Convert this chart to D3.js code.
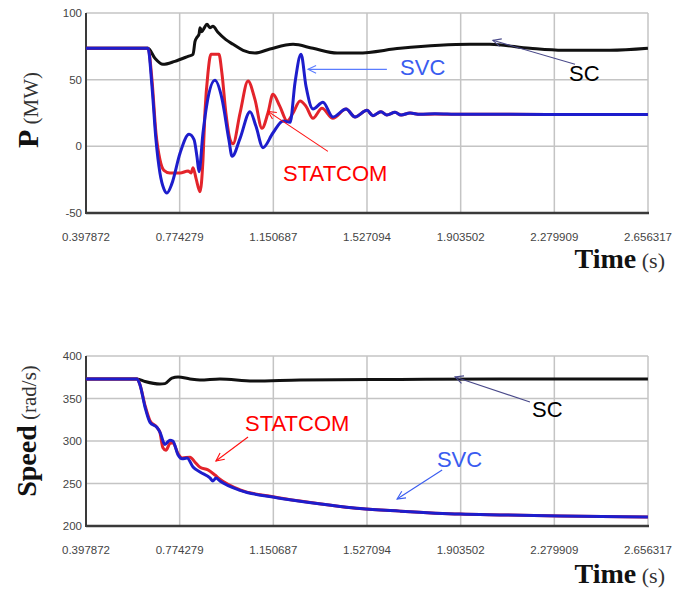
<!DOCTYPE html>
<html>
<head>
<meta charset="utf-8">
<script src="https://cdn.jsdelivr.net/npm/d3@7"></script>
<style>
  body { margin: 0; background: #fff; }
  svg { display: block; }
</style>
</head>
<body>
<div id="viz"></div>
<script>
// shared time axis
var timeTicks = [0.397872, 0.774279, 1.150687, 1.527094, 1.903502, 2.279909, 2.656317];
var powerTicks = [-50, 0, 50, 100];
var speedTicks = [200, 250, 300, 350, 400];

// active power P (MW)
var scTimeP = [0.398, 0.647, 0.675, 0.707, 0.755, 0.808, 0.828, 0.836, 0.844, 0.852, 0.856, 0.864, 0.872,
  0.884, 0.896, 0.908, 0.928, 0.960, 0.989, 1.029, 1.077, 1.137, 1.230, 1.310, 1.407, 1.491, 1.660,
  1.941, 2.021, 2.182, 2.315, 2.504, 2.656];
var scP = [73.5, 73.5, 66, 61.5, 63.75, 67.5, 69, 78.75, 81.75, 84, 89, 86, 88.5,
  91.5, 89, 90, 85.5, 80, 76.5, 72, 70, 73, 76.5, 73.5, 70, 70, 73.5,
  76.5, 76.5, 73.5, 72, 72, 73.5];

var svcTimeP = [0.398, 0.647, 0.663, 0.679, 0.695, 0.711, 0.723, 0.743, 0.776, 0.812, 0.832, 0.844, 0.852,
  0.868, 0.884, 0.916, 0.944, 0.972, 0.985, 1.017, 1.057, 1.081, 1.109, 1.149, 1.190, 1.218, 1.238,
  1.262, 1.282, 1.310, 1.350, 1.390, 1.443, 1.479, 1.527, 1.551, 1.583, 1.607, 1.640, 1.664, 1.700,
  1.740, 1.800, 1.900, 2.100, 2.400, 2.656];
var svcP = [73.5, 73.5, 45, 5, -20, -32, -35, -28, -5, 9, 5, -8, -19,
  10, 32, 49.5, 36, 5, -7.5, 6, 26, 15, -1, 10, 19, 18, 48,
  69, 45, 28, 33, 22, 28, 22, 27, 23, 26, 23.5, 25.5, 23.5, 25,
  24, 24.5, 24, 24, 23.8, 23.8];

var statcomTimeP = [0.398, 0.647, 0.663, 0.679, 0.695, 0.711, 0.735, 0.776, 0.808, 0.820, 0.828, 0.840, 0.856,
  0.868, 0.876, 0.888, 0.900, 0.932, 0.944, 0.960, 0.977, 0.989, 1.017, 1.049, 1.077, 1.105, 1.129,
  1.149, 1.177, 1.206, 1.230, 1.258, 1.282, 1.310, 1.346, 1.390, 1.443, 1.479, 1.527, 1.551, 1.583,
  1.607, 1.640, 1.664, 1.700, 1.740, 1.800, 1.900, 2.100, 2.400, 2.656];
var statcomP = [73.5, 73.5, 50, 10, -10, -18, -20, -20, -18.5, -20, -16, -24, -34,
  -10, 26, 55, 69, 69, 55, 25, 5, 2, 25, 49, 35, 13.5, 25,
  39, 30, 19, 25, 34, 30, 21, 28.5, 21, 28, 22, 27, 23, 26,
  23.5, 25.5, 23.5, 25, 24, 24.3, 24, 24, 23.8, 23.8];

// rotor speed (rad/s)
var scTimeW = [0.398, 0.603, 0.635, 0.695, 0.715, 0.743, 0.768, 0.816, 0.856, 0.936, 1.069, 1.258, 1.660, 2.062, 2.656];
var scW = [373, 373, 370, 367, 367.5, 374, 375.3, 373, 371.8, 373, 370.6, 371.8, 372.5, 373, 373];

var svcTimeW = [0.398, 0.603, 0.615, 0.635, 0.655, 0.683, 0.695, 0.715, 0.735, 0.747, 0.768, 0.784, 0.804,
  0.828, 0.856, 0.896, 0.908, 0.920, 0.936, 1.017, 1.149, 1.258, 1.419, 1.499, 1.660, 1.901, 2.062,
  2.303, 2.656];
var svcW = [373, 373, 366, 340, 322, 316, 310.5, 296, 301, 300, 283.5, 279, 280,
  269.4, 263.5, 256.5, 253, 256.5, 253, 242, 234, 229, 223, 220.5, 217.5, 214, 213,
  211.8, 210.6];

var statcomTimeW = [0.398, 0.603, 0.615, 0.635, 0.655, 0.683, 0.695, 0.707, 0.719, 0.735, 0.747, 0.768, 0.784,
  0.816, 0.836, 0.856, 0.888, 0.916, 0.936, 1.017, 1.149, 1.258, 1.419, 1.499, 1.660, 1.901, 2.062,
  2.303, 2.656];
var statcomW = [373, 373, 366, 342, 324, 316, 310, 292, 289, 297, 298, 285, 280,
  281, 275, 269, 266, 260, 255, 242.5, 234.5, 229.3, 223, 220.5, 217.5, 214, 213,
  211.8, 210.6];

var width = 680, height = 591;
var plotLeft = 86, plotRight = 648;

var svg = d3.select("#viz").append("svg")
  .attr("width", width)
  .attr("height", height);

var x = d3.scaleLinear()
  .domain([timeTicks[0], timeTicks[timeTicks.length - 1]])
  .range([plotLeft, plotRight]);

function zip(ts, vs) {
  return ts.map(function(t, i) { return [t, vs[i]]; });
}

function arrow(g, x1, y1, x2, y2, color) {
  // tail (x1,y1) -> tip (x2,y2), open head
  var a = Math.atan2(y2 - y1, x2 - x1);
  var len = 9, spread = 0.45;
  g.append("line")
    .attr("x1", x1).attr("y1", y1).attr("x2", x2).attr("y2", y2)
    .attr("stroke", color).attr("stroke-width", 1.1);
  g.append("path")
    .attr("d", "M" + (x2 - len * Math.cos(a - spread)) + "," + (y2 - len * Math.sin(a - spread)) +
      "L" + x2 + "," + y2 +
      "L" + (x2 - len * Math.cos(a + spread)) + "," + (y2 - len * Math.sin(a + spread)))
    .attr("fill", "none").attr("stroke", color).attr("stroke-width", 1.1);
}

function panel(cfg) {
  var y = d3.scaleLinear()
    .domain([cfg.ticks[0], cfg.ticks[cfg.ticks.length - 1]])
    .range([cfg.bottom, cfg.top]);
  var g = svg.append("g");

  // grid
  g.selectAll(".vgrid").data(timeTicks).enter().append("line")
    .attr("x1", function(d) { return x(d); })
    .attr("x2", function(d) { return x(d); })
    .attr("y1", cfg.top).attr("y2", cfg.bottom)
    .attr("stroke", "#c4c4c4").attr("stroke-width", 1.5);
  g.selectAll(".hgrid").data(cfg.ticks).enter().append("line")
    .attr("x1", plotLeft).attr("x2", plotRight)
    .attr("y1", function(d) { return y(d); })
    .attr("y2", function(d) { return y(d); })
    .attr("stroke", "#c4c4c4").attr("stroke-width", 1.5);

  // dark left and bottom axis lines
  g.append("line")
    .attr("x1", plotLeft).attr("x2", plotLeft)
    .attr("y1", cfg.top).attr("y2", cfg.bottom + 1)
    .attr("stroke", "#3a3a3a").attr("stroke-width", 2);
  g.append("line")
    .attr("x1", plotLeft).attr("x2", plotRight + 1)
    .attr("y1", cfg.bottom).attr("y2", cfg.bottom)
    .attr("stroke", "#3a3a3a").attr("stroke-width", 2.5);

  // tick labels
  g.selectAll(".ylab").data(cfg.ticks).enter().append("text")
    .attr("x", plotLeft - 4)
    .attr("y", function(d) { return y(d) + 4; })
    .attr("text-anchor", "end")
    .attr("font-family", "Liberation Sans, Arial, sans-serif")
    .attr("font-size", "11.5px")
    .attr("fill", "#444")
    .text(function(d) { return d; });
  g.selectAll(".xlab").data(timeTicks).enter().append("text")
    .attr("x", function(d) { return x(d); })
    .attr("y", cfg.bottom + 28)
    .attr("text-anchor", "middle")
    .attr("font-family", "Liberation Sans, Arial, sans-serif")
    .attr("font-size", "11.5px")
    .attr("fill", "#444")
    .text(function(d) { return d.toFixed(6); });

  var line = d3.line()
    .x(function(d) { return x(d[0]); })
    .y(function(d) { return y(d[1]); })
    .curve(d3.curveMonotoneX);

  cfg.series.forEach(function(s) {
    g.append("path")
      .datum(s.data)
      .attr("d", line)
      .attr("fill", "none")
      .attr("stroke", s.color)
      .attr("stroke-width", 3)
      .attr("stroke-linejoin", "round");
  });

  // annotations
  cfg.notes.forEach(function(n) {
    arrow(g, x(n.tail[0]), y(n.tail[1]), x(n.tip[0]), y(n.tip[1]), n.arrowColor);
    g.append("text")
      .attr("x", x(n.text[0])).attr("y", y(n.text[1]))
      .attr("font-family", "Liberation Sans, Arial, sans-serif")
      .attr("font-size", "22px")
      .attr("fill", n.color)
      .text(n.label);
  });

  // axis titles
  var yt = g.append("text")
    .attr("transform", "translate(" + cfg.yTitleX + "," + cfg.yTitleY + ") rotate(-90)")
    .attr("text-anchor", "middle")
    .attr("font-family", "Liberation Serif, Times New Roman, serif")
    .attr("fill", "#111");
  yt.append("tspan").attr("font-weight", "bold").attr("font-size", cfg.yBoldSize).text(cfg.yBold);
  yt.append("tspan").attr("font-size", "21px").attr("fill", "#333").text(" " + cfg.yUnit);

  var xt = g.append("text")
    .attr("x", 665).attr("y", cfg.bottom + cfg.xTitleDy)
    .attr("text-anchor", "end")
    .attr("font-family", "Liberation Serif, Times New Roman, serif")
    .attr("fill", "#111");
  xt.append("tspan").attr("font-weight", "bold").attr("font-size", "28px").text("Time");
  xt.append("tspan").attr("font-size", "22px").attr("fill", "#333").text(" (s)");
}

panel({
  top: 13, bottom: 213, ticks: powerTicks,
  yBold: "P", yUnit: "(MW)", yBoldSize: "30px", yTitleX: 38, yTitleY: 110, xTitleDy: 55,
  series: [
    { data: zip(scTimeP, scP), color: "#111" },
    { data: zip(statcomTimeP, statcomP), color: "#e3242b" },
    { data: zip(svcTimeP, svcP), color: "#1d1dcc" }
  ],
  notes: [
    { label: "SVC", color: "#3a5cf0", arrowColor: "#5a7cff", tip: [1.290, 57.75], tail: [1.607, 57.75], text: [1.660, 53.25] },
    { label: "SC", color: "#000", arrowColor: "#4a4a8a", tip: [2.033, 79.5], tail: [2.363, 61.5], text: [2.339, 48.75] },
    { label: "STATCOM", color: "#ff0000", arrowColor: "#ff1010", tip: [1.129, 26.25], tail: [1.370, -3.75], text: [1.190, -26.25] }
  ]
});

panel({
  top: 356, bottom: 526, ticks: speedTicks,
  yBold: "Speed", yUnit: "(rad/s)", yBoldSize: "28px", yTitleX: 36, yTitleY: 431, xTitleDy: 57,
  series: [
    { data: zip(scTimeW, scW), color: "#111" },
    { data: zip(statcomTimeW, statcomW), color: "#e3242b" },
    { data: zip(svcTimeW, svcW), color: "#1d1dcc" }
  ],
  notes: [
    { label: "STATCOM", color: "#ff0000", arrowColor: "#ff1010", tip: [0.920, 276.5], tail: [1.049, 304.7], text: [1.037, 311.8] },
    { label: "SC", color: "#000", arrowColor: "#4a4a8a", tip: [1.881, 375.3], tail: [2.182, 345.9], text: [2.190, 328.2] },
    { label: "SVC", color: "#3a5cf0", arrowColor: "#3a5cf0", tip: [1.648, 231.8], tail: [1.829, 265.9], text: [1.808, 269.4] }
  ]
});
</script>
</body>
</html>
